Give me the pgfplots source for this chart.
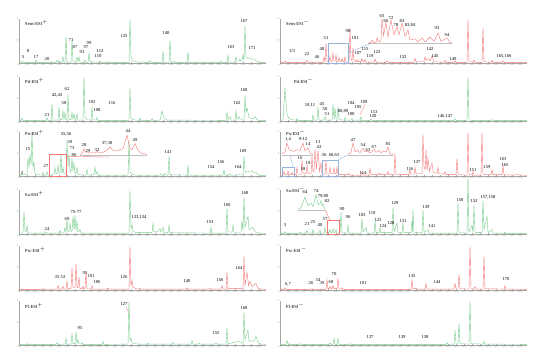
\documentclass[border=0pt]{standalone}
\usepackage{pgfplots}
\pgfplotsset{compat=1.18}
\usepackage{fontspec}
\setmainfont{Liberation Serif}
\definecolor{cg}{RGB}{120,205,140}
\definecolor{cr}{RGB}{245,120,120}
\definecolor{cb}{RGB}{150,180,220}
\tikzset{lbl/.style={font=\fontsize{4.6}{5}\selectfont, inner sep=0pt},
  ttl/.style={font=\fontsize{4.6}{5}\selectfont, inner sep=0pt, anchor=west}}
\pgfplotsset{chrom/.style={scale only axis, width=247pt, height=44pt,
  xmin=0, xmax=61.75, ymin=0, ymax=100, clip=false,
  axis x line*=bottom, axis y line*=left,
  axis line style={gray!70, line width=0.3pt},
  xtick={0,2,...,60}, ytick={50,100},
  major tick length=1.2pt, tick style={gray!70, line width=0.3pt},
  xticklabel style={font=\fontsize{2}{2}\selectfont, gray, inner sep=0.5pt},
  yticklabel style={font=\fontsize{3}{3}\selectfont, cg!80!black, inner sep=0.5pt},
  yticklabels={5,1},
  /pgf/number format/assume math mode=true,
  xticklabel={\pgfmathprintnumber[fixed,fixed zerofill,precision=2]{\tick}},
  anchor=south west}}
\begin{document}
\begin{tikzpicture}
\path[use as bounding box] (0pt,0pt) rectangle (550pt,361pt);
% ---------- Row 1 left: Sens-ESI+
\begin{axis}[chrom, at={(19pt,298pt)}]
\addplot[cg, line width=0.4pt] coordinates {(0,1.5) (0.5,1.5) (0.75,4) (1,1.5) (4,1.5) (4.25,7) (4.5,1.5) (8,1.5) (8.25,3) (8.5,1.5) (9.25,1.5) (9.5,6) (9.75,2) (10,5) (10.25,1.5) (10.75,1.5) (11,14) (11.25,2) (11.5,2) (11.75,61) (12,2) (13,2) (13.25,52) (13.5,3) (14.25,2) (14.5,14) (14.75,3) (15,14) (15.25,2) (16.25,1.5) (16.5,7) (16.75,1.5) (17.25,1.5) (17.5,23) (17.75,3) (20,1.5) (20.25,4) (20.5,1.5) (22,1.5) (22.25,3) (22.5,1.5) (27.5,1.5) (27.75,100) (28,14) (28.5,5) (29.5,2.5) (30.75,1.5) (31,3) (31.25,1.5) (32.5,1.5) (32.75,5) (33,1.5) (35.75,1.5) (36,27) (36.25,2) (37.5,1.5) (37.75,52) (38,3) (38.5,1.5) (38.75,4) (39,1.5) (42,1.5) (42.25,25) (42.5,1.5) (45,1.5) (45.25,3) (45.5,1.5) (48.75,1.5) (49,3) (49.25,1.5) (50.25,1.5) (50.5,4) (50.75,1.5) (52,1.5) (52.25,18) (52.5,2) (54,2) (54.25,14) (54.5,4) (55,4) (55.25,9) (55.5,4) (55.75,4) (56,18) (56.25,6) (56.5,86) (56.75,14) (57.25,10) (57.75,12) (58.25,8) (59,8) (59.5,3) (59.75,3) (60.25,1.5) (61.75,1.5)};
\node[ttl] at (1.5,92) {Sens-ESI$^{+}$};
\node[lbl] at (1,14) {5}; \node[lbl] at (2.25,27) {8}; \node[lbl] at (4.25,14) {17}; \node[lbl] at (7,9) {20};
\node[lbl] at (13,52) {71}; \node[lbl] at (14,36) {87}; \node[lbl] at (15.75,25) {93}; \node[lbl] at (16.75,36) {97};
\node[lbl] at (17.5,45) {99}; \node[lbl] at (19.75,16) {110}; \node[lbl] at (20.25,27) {112}; \node[lbl] at (26.25,61) {125};
\node[lbl] at (36.75,68) {140}; \node[lbl] at (53,36) {163}; \node[lbl] at (56.25,95) {167}; \node[lbl] at (58.25,34) {171};
\end{axis}
% ---------- Row 1 right: Sens-ESI-
\begin{axis}[chrom, at={(280pt,298pt)}]
\addplot[cr, line width=0.4pt] coordinates {(0,1.5) (1,1.5) (1.25,5) (1.5,1.5) (6.5,1.5) (6.75,7) (7,1.5) (9,1.5) (9.25,3) (9.5,1.5) (10.75,1.5) (11,14) (11.25,3) (11.5,45) (11.75,3) (12.25,2) (12.5,15) (12.75,3) (13,3) (13.25,23) (13.5,4) (13.75,4) (14,18) (14.25,3) (14.5,3) (14.75,12) (15,3) (15.25,3) (15.5,10) (15.75,3) (16,3) (16.25,14) (16.5,2) (17.25,2) (17.5,80) (17.75,8) (18,6) (18.25,35) (18.5,5) (19,3) (19.25,8) (19.5,3) (20.25,3) (20.5,10) (20.75,3) (21,3) (21.25,8) (21.5,2) (23.5,2) (23.75,9) (24,2) (26.5,1.5) (26.75,5) (27,1.5) (33.5,1.5) (33.75,11) (34,4) (36,4) (36.25,14) (36.5,6) (37,10) (37.5,5) (38,16) (38.5,3) (41,1.5) (41.25,6) (41.5,1.5) (43.5,1.5) (43.75,5) (44,1.5) (46.75,1.5) (47,100) (47.25,3) (48.25,2) (48.5,7) (48.75,1.5) (50.5,1.5) (50.75,80) (51,3) (52.75,1.5) (53,6) (53.25,1.5) (55.5,1.5) (55.75,5) (56,1.5) (61.75,1.5)};
\addplot[gray!50, line width=0.4pt] coordinates {(22,45.5) (43,45.5)};
\addplot[cr, line width=0.4pt] coordinates {(22,46.5) (22.75,47) (23,52) (23.5,47) (24,47) (24.25,57) (24.75,48) (25.25,50) (25.5,102) (25.9,62) (26.5,93) (27,59) (27.75,98) (28.5,64) (29.25,82) (29.75,64) (30.5,91) (31.25,60) (31.5,64) (32,75) (32.5,52) (33.75,55) (34.5,48) (35.5,57) (36.25,48) (37.5,59) (38.5,49) (39.5,68) (40.25,49) (41.75,57) (42.5,47) (43,46.5)};
\draw[cb, line width=0.4pt] (12,0.5) rectangle (17,45.5);
\draw[cb, line width=0.4pt] (17,23) -- (23,45.5);
\node[ttl] at (1.5,92) {Sens-ESI$^{-}$};
\node[lbl] at (3,27) {1/3}; \node[lbl] at (6.75,20) {22}; \node[lbl] at (9.25,14) {46}; \node[lbl] at (10.5,32) {48};
\node[lbl] at (11.5,57) {51}; \node[lbl] at (17,73) {98}; \node[lbl] at (18.75,57) {101}; \node[lbl] at (19.5,23) {107};
\node[lbl] at (21.25,32) {115}; \node[lbl] at (22.5,16) {119}; \node[lbl] at (24.25,25) {122}; \node[lbl] at (30.75,14) {132};
\node[lbl] at (37.5,32) {142}; \node[lbl] at (38.75,16) {145}; \node[lbl] at (43.25,9) {149}; \node[lbl] at (56,16) {165,166};
\node[lbl] at (25.5,107) {65}; \node[lbl] at (26.5,96) {66}; \node[lbl] at (27.75,102) {72}; \node[lbl] at (29,86) {78};
\node[lbl] at (30.5,96) {83}; \node[lbl] at (32.5,86) {83,84}; \node[lbl] at (39.25,80) {92}; \node[lbl] at (41.75,64) {94};
\end{axis}
% ---------- Row 2 left: Pd-ESI+
\begin{axis}[chrom, at={(19pt,240pt)}]
\addplot[cg, line width=0.4pt] coordinates {(0,1.5) (0.5,1.5) (0.75,6) (1,1.5) (6.75,1.5) (7,8) (7.25,1.5) (8,1.5) (8.25,39) (8.5,2) (9.75,2) (10,32) (10.25,3) (10.75,3) (11,23) (11.25,4) (11.5,20) (11.75,3) (12,3) (12.25,61) (12.5,3) (13,3) (13.25,20) (13.5,4) (13.75,16) (14,3) (14.25,3) (14.5,16) (14.75,2) (16,2) (16.25,100) (16.5,10) (17,3) (18,2) (18.25,32) (18.5,3) (19.25,2) (19.5,8) (19.75,1.5) (27.5,1.5) (27.75,75) (28,8) (28.5,3) (30,1.5) (30.25,7) (30.5,1.5) (33,1.5) (33.25,5) (33.5,1.5) (35.25,2) (35.75,23) (36.25,6) (37,2) (51.75,1.5) (52,20) (52.25,3) (52.75,10) (53,2) (54,2) (54.25,23) (54.5,4) (55,10) (55.25,4) (56.25,4) (56.5,59) (56.75,20) (57,30) (57.5,8) (58.5,5) (59,10) (59.5,3) (60,1.5) (61.75,1.5)};
\node[ttl] at (1.5,92) {Pd-ESI$^{+}$};
\node[lbl] at (7,14) {21}; \node[lbl] at (9.5,59) {42,43}; \node[lbl] at (11.25,41) {58}; \node[lbl] at (12,73) {62};
\node[lbl] at (18.25,43) {102}; \node[lbl] at (19.5,25) {108}; \node[lbl] at (23.25,41) {116}; \node[lbl] at (54.5,41) {162};
\node[lbl] at (56.25,70) {168};
\end{axis}
% ---------- Row 2 right: Pd-ESI-
\begin{axis}[chrom, at={(280pt,240pt)}]
\addplot[cg, line width=0.4pt] coordinates {(0,1.5) (0.75,2) (1.25,77) (1.5,40) (1.75,15) (2.25,6) (3,3) (4,2) (4.25,5) (4.5,1.5) (8,1.5) (8.25,14) (8.5,2) (9.25,2) (9.5,32) (9.75,2) (11,2) (11.25,10) (11.5,2) (13,2) (13.25,39) (13.5,5) (13.75,30) (14,4) (14.25,4) (14.5,32) (14.75,3) (16,2) (16.25,8) (16.5,2) (17.75,2) (18,6) (18.25,2) (20,2) (20.25,10) (20.5,1.5) (22.5,1.5) (22.75,4) (23,1.5) (43.5,1.5) (43.75,5) (44,1.5) (46.75,1.5) (47,100) (47.25,3) (47.75,1.5) (52.75,1.5) (53,3) (53.25,1.5) (61.75,1.5)};
\draw[cr, line width=0.3pt] (21.25,38) -- (20,14);
\node[ttl] at (3.5,92) {Pd-ESI$^{-}$};
\node[lbl] at (7.5,36) {10,11}; \node[lbl] at (10.5,39) {45}; \node[lbl] at (11.25,27) {50}; \node[lbl] at (11.75,16) {51};
\node[lbl] at (15.75,23) {80,89}; \node[lbl] at (17.75,16) {100}; \node[lbl] at (17.75,41) {104}; \node[lbl] at (19.5,32) {105};
\node[lbl] at (21,43) {109}; \node[lbl] at (23.5,20) {113}; \node[lbl] at (23.25,11) {120}; \node[lbl] at (41.25,11) {146,147};
\end{axis}
% ---------- Row 3 left: Pn-ESI+
\begin{axis}[chrom, at={(19pt,185pt)}]
\addplot[cg, line width=0.4pt] coordinates {(0,1.5) (0.5,1.5) (0.75,5) (1,3) (2,4) (2.25,41) (2.5,20) (2.75,50) (3,25) (3.25,100) (3.5,20) (3.75,30) (4,5) (4.5,3) (5.75,2) (6,8) (6.25,2) (6.75,2) (7,10) (7.25,2) (8.75,3) (9,20) (9.25,5) (9.5,5) (9.75,25) (10,6) (10.25,6) (10.5,52) (10.75,6) (11,20) (11.25,5) (11.75,5) (12,82) (12.25,20) (12.5,50) (12.75,10) (13,10) (13.25,40) (13.5,10) (13.75,30) (14,6) (14.25,6) (14.5,20) (14.75,3) (16.75,2) (17,15) (17.25,2) (18.75,3) (19,20) (19.25,5) (19.5,10) (19.75,2) (27.25,2) (27.5,80) (27.75,10) (28.25,4) (29,2) (35.25,2) (35.5,5) (35.75,2) (36.25,2) (36.5,6) (36.75,2) (37.25,2) (37.5,45) (37.75,3) (42,2) (42.25,23) (42.5,2) (51,2) (51.25,14) (51.5,2) (52.5,2) (52.75,5) (53,2) (56,3) (56.25,45) (56.5,8) (57.25,10) (57.75,9) (58.25,12) (58.75,8) (59.25,8) (59.75,3) (60.5,1.5) (61.75,1.5)};
\addplot[gray!50, line width=0.4pt] coordinates {(15.25,48) (32,48)};
\addplot[cr, line width=0.4pt] coordinates {(15.25,49) (15.75,51) (16.25,62) (16.6,54) (17,55) (17.5,52) (18.25,53) (19,52) (19.5,56) (20,52) (21,54) (22,58) (22.75,66) (23.5,58) (24.5,57) (25.25,60) (26,62) (27,93) (27.75,62) (28.25,60) (29,74) (29.75,58) (30.5,52) (31.25,51) (32,49)};
\draw[cr, line width=0.4pt] (7.5,0.5) rectangle (11.75,50);
\draw[cr, line width=0.4pt] (11.75,45) -- (22.5,43);
\node[ttl] at (1.5,97) {Pn-ESI$^{+}$};
\node[lbl] at (0.75,7) {2}; \node[lbl] at (2.25,61) {15}; \node[lbl] at (6.75,23) {27}; \node[lbl] at (11.75,95) {55,56};
\node[lbl] at (12.75,77) {59}; \node[lbl] at (13.25,64) {73}; \node[lbl] at (13.75,48) {86}; \node[lbl] at (37.25,55) {141};
\node[lbl] at (48,20) {154}; \node[lbl] at (50.5,32) {156}; \node[lbl] at (54.75,20) {164}; \node[lbl] at (56,57) {169};
\node[lbl] at (16.25,70) {28}; \node[lbl] at (17.25,57) {29}; \node[lbl] at (19.5,60) {32}; \node[lbl] at (22,75) {37,38};
\node[lbl] at (27.25,102) {44}; \node[lbl] at (29,82) {49};
\end{axis}
% ---------- Row 3 right: Pn-ESI-
\begin{axis}[chrom, at={(280pt,185pt)}]
\addplot[cr, line width=0.4pt] coordinates {(0,1.5) (0.75,2) (1,10) (1.25,3) (1.75,3) (2,12) (2.25,3) (2.75,3) (3,8) (3.25,3) (4,3) (4.25,20) (4.5,4) (5.25,4) (5.5,35) (5.75,6) (6.5,5) (6.75,25) (7,5) (7.75,5) (8,45) (8.25,10) (8.5,10) (8.75,61) (9.1,15) (9.5,58) (9.9,10) (10.25,30) (10.5,4) (11.25,4) (11.5,36) (11.75,4) (12.25,4) (12.5,20) (12.75,5) (13.25,5) (13.5,18) (13.75,5) (14,5) (14.25,20) (14.5,3) (17,3) (17.25,6) (17.5,2) (20.25,2) (20.5,10) (20.75,2) (22.25,2) (22.5,18) (22.75,3) (24.5,3) (24.75,7) (25,3) (26.75,3) (27,10) (27.25,3) (28.5,3) (28.75,52) (29,4) (30,3) (32.25,3) (32.5,15) (32.75,4) (33.5,4) (33.75,20) (34,5) (35.5,5) (35.75,95) (36,20) (36.25,15) (36.5,60) (36.75,12) (37,40) (37.4,10) (38,30) (38.3,8) (39.25,6) (39.5,20) (39.75,5) (41,4) (41.25,10) (41.5,3) (44,3) (44.25,40) (44.5,3) (46.75,2) (47,100) (47.25,4) (48,3) (48.25,10) (48.5,2) (50.25,2) (50.5,100) (50.75,4) (52.75,3) (53,15) (53.25,3) (55.5,3) (55.75,23) (56,3) (58,2) (59,3) (61.75,1.5)};
\addplot[gray!50, line width=0.4pt] coordinates {(0.5,48) (8.25,48)};
\addplot[cr, line width=0.4pt] coordinates {(0.5,50) (1.25,55) (1.75,75) (2.25,60) (2.75,58) (3.5,56) (4.25,60) (5,58) (5.75,75) (6.25,57) (7,64) (7.5,52) (8.25,49)};
\addplot[gray!50, line width=0.4pt] coordinates {(17,48) (28.25,48)};
\addplot[cr, line width=0.4pt] coordinates {(17,49) (17.75,54) (18.25,75) (18.75,55) (19.5,58) (20,53) (20.75,63) (21.25,55) (22,56) (22.5,53) (23,55) (23.5,61) (24,54) (24.75,58) (25.25,53) (26,57) (26.5,54) (27,66) (27.5,50) (28.25,49)};
\draw[cb, line width=0.4pt] (0.5,0.5) rectangle (3.5,20);
\draw[cb, line width=0.4pt] (3.25,20) -- (2.5,48);
\draw[cb, line width=0.4pt] (10.5,0.5) rectangle (14.5,36);
\draw[cb, line width=0.4pt] (14.5,36) -- (17,48);
\node[ttl] at (1.5,97) {Pn-ESI$^{-}$};
\node[lbl] at (2,84) {1,4}; \node[lbl] at (5.75,84) {9-12}; \node[lbl] at (7,72) {14}; \node[lbl] at (9.5,77) {13};
\node[lbl] at (9.75,66) {43}; \node[lbl] at (5,41) {16}; \node[lbl] at (5.75,16) {18}; \node[lbl] at (7,30) {19};
\node[lbl] at (11,48) {36}; \node[lbl] at (13.5,48) {60,63}; \node[lbl] at (20.75,7) {114}; \node[lbl] at (32.5,16) {116};
\node[lbl] at (34.25,32) {137}; \node[lbl] at (48.25,14) {151}; \node[lbl] at (51.75,20) {159}; \node[lbl] at (55.75,39) {163};
\node[lbl] at (56.25,25) {165};
\node[lbl] at (18.25,82) {47}; \node[lbl] at (20.75,70) {54}; \node[lbl] at (22,59) {63}; \node[lbl] at (23.5,66) {67};
\node[lbl] at (27,73) {85};
\end{axis}
% ---------- Row 4 left: Sa-ESI+
\begin{axis}[chrom, at={(19pt,127pt)}]
\addplot[cg, line width=0.4pt] coordinates {(0,1.5) (1,2) (1.25,50) (1.5,8) (1.75,5) (2,20) (2.25,3) (3,2) (6.5,2) (6.75,5) (7,2) (10,2) (10.25,8) (10.5,2) (11.25,3) (11.5,15) (11.75,4) (12,32) (12.25,5) (12.5,5) (12.75,25) (13,6) (13.25,6) (13.5,40) (13.75,10) (14,43) (14.25,8) (14.5,30) (14.75,4) (15.25,10) (15.5,2) (27.5,2) (27.75,100) (28,12) (28.25,20) (28.5,6) (29.25,3) (33.25,3) (33.5,25) (33.75,6) (34.5,4) (35.25,12) (35.5,4) (36,15) (36.25,4) (37.25,3) (37.5,20) (37.75,3) (47.75,2) (48,15) (48.25,2) (51.75,2) (52,59) (52.25,5) (53.25,4) (53.5,20) (53.75,4) (55.5,4) (55.75,30) (56,8) (56.25,84) (56.5,15) (57.25,40) (57.5,10) (58.5,15) (59,5) (60,2) (61.75,1.5)};
\node[ttl] at (1.5,92) {Sa-ESI$^{+}$};
\node[lbl] at (7,11) {24}; \node[lbl] at (12,34) {69}; \node[lbl] at (14.25,50) {75-77}; \node[lbl] at (30,38) {133,134};
\node[lbl] at (47.75,27) {153}; \node[lbl] at (52,65) {160}; \node[lbl] at (56.5,93) {168};
\end{axis}
% ---------- Row 4 right: Sa-ESI-
\begin{axis}[chrom, at={(280pt,127pt)}]
\addplot[cg, line width=0.4pt] coordinates {(0,1.5) (1,1.5) (1.25,5) (1.5,1.5) (4.75,1.5) (5,5) (5.25,1.5) (6.5,2) (6.75,8) (7,2) (8,2) (8.25,10) (8.5,2) (9.75,2) (10,8) (10.25,2) (11,2) (11.25,15) (11.5,3) (12.25,3) (12.5,10) (12.75,3) (13,3) (13.25,12) (13.5,3) (13.75,3) (14,10) (14.25,2) (15,2) (15.25,50) (15.5,3) (16.75,2) (17,20) (17.25,2) (20.25,2) (20.5,35) (20.75,5) (21.5,15) (21.75,2) (23.5,2) (23.75,30) (24,3) (24.75,3) (25,15) (25.25,3) (28,3) (28.25,61) (28.5,5) (29.25,25) (29.5,4) (30.5,3) (30.75,25) (31,3) (32.75,3) (33,30) (33.1,5) (33.25,57) (33.5,4) (35.5,3) (35.75,55) (36,4) (37,10) (37.25,2) (44.25,2) (44.5,70) (44.75,3) (46.75,2) (47,130) (47.25,4) (48,20) (48.25,4) (48.5,66) (48.75,3) (50.5,3) (50.75,77) (51,10) (51.75,40) (52,3) (53,10) (53.25,2) (56,2) (56.25,5) (56.5,1.5) (61.75,1.5)};
\addplot[gray!50, line width=0.4pt] coordinates {(4.5,55) (11.25,55)};
\addplot[cg, line width=0.4pt] coordinates {(4.5,56) (5.25,60) (6.25,84) (7,64) (7.75,70) (8.25,62) (9,89) (9.5,66) (10,70) (10.25,76) (10.5,64) (10.75,68) (11.25,56)};
\draw[cr, line width=0.4pt] (11.75,0.5) rectangle (14.75,32);
\draw[cr, line width=0.4pt] (11.25,55) -- (12.5,32);
\node[ttl] at (1.5,100) {Sa-ESI$^{-}$};
\node[lbl] at (1.25,20) {3}; \node[lbl] at (6.75,23) {21}; \node[lbl] at (8.25,27) {25}; \node[lbl] at (10,20) {40};
\node[lbl] at (11.25,34) {57}; \node[lbl] at (15.5,57) {90}; \node[lbl] at (17,39) {96}; \node[lbl] at (20.5,43) {103};
\node[lbl] at (23,47) {110}; \node[lbl] at (24.5,32) {123}; \node[lbl] at (25.75,18) {124};
\node[lbl] at (27.75,25) {128}; \node[lbl] at (28.75,70) {129}; \node[lbl] at (30.75,30) {131}; \node[lbl] at (36.5,61) {139};
\node[lbl] at (38,18) {141}; \node[lbl] at (45,77) {150}; \node[lbl] at (48.5,75) {152}; \node[lbl] at (52,84) {157,158};
\node[lbl] at (6.25,95) {64}; \node[lbl] at (9,98) {74}; \node[lbl] at (10.75,86) {79,80}; \node[lbl] at (11.75,75) {82};
\end{axis}
% ---------- Row 5 left: Prc-ESI+
\begin{axis}[chrom, at={(19pt,71pt)}]
\addplot[cr, line width=0.4pt] coordinates {(0,1.5) (5.75,1.5) (6,3) (6.25,1.5) (9.5,2) (9.75,10) (10,2) (10.75,2) (11,8) (11.25,2) (11.75,2) (12,20) (12.25,3) (13,3) (13.25,50) (13.5,5) (14,5) (14.25,61) (14.5,6) (14.75,5) (15,30) (15.25,3) (15.75,3) (16,8) (16.25,3) (16.5,3) (16.75,41) (17,3) (18,2) (18.25,10) (18.5,2) (22,2) (22.25,4) (22.5,2) (27.5,2) (27.75,100) (28,10) (28.25,20) (28.5,6) (29.25,3) (30,2) (30.25,4) (30.5,2) (41.75,2) (42,5) (42.25,2) (47.5,2) (47.75,4) (48,2) (50.5,2) (50.75,10) (51,2) (51.75,2) (52,41) (52.25,3) (56,3) (56.25,77) (56.5,10) (57,40) (57.4,10) (57.75,20) (58.25,8) (59.25,15) (59.75,4) (60.5,2) (61.75,1.5)};
\node[ttl] at (1.5,92) {Prc-ESI$^{+}$};
\node[lbl] at (9.5,30) {35}; \node[lbl] at (11,30) {52}; \node[lbl] at (16.5,39) {95}; \node[lbl] at (18,32) {101};
\node[lbl] at (19.5,18) {106}; \node[lbl] at (26.25,30) {126}; \node[lbl] at (42,20) {140}; \node[lbl] at (50.25,23) {156};
\node[lbl] at (55,50) {164};
\end{axis}
% ---------- Row 5 right: Prc-ESI-
\begin{axis}[chrom, at={(280pt,71pt)}]
\addplot[cr, line width=0.4pt] coordinates {(0,1.5) (1,1.5) (1.25,5) (1.5,1.5) (7.75,1.5) (8,3) (8.25,1.5) (11.5,1.5) (11.75,23) (12,3) (12.25,3) (12.5,8) (12.75,3) (13,3) (13.25,10) (13.5,3) (14.25,3) (14.5,27) (14.75,3) (15.25,2) (15.5,5) (15.75,1.5) (32.75,1.5) (33,23) (33.25,3) (33.75,3) (34,5) (34.25,2) (36.25,2) (36.5,15) (36.75,2) (43.5,2) (43.75,15) (44,4) (44.5,4) (44.75,36) (45,3) (47.25,2) (47.5,100) (47.75,3) (48.5,2) (48.75,8) (49,2) (50.75,2) (51,77) (51.25,3) (56,2) (56.25,10) (56.5,2) (61.75,1.5)};
\node[ttl] at (1.5,92) {Prc-ESI$^{-}$};
\node[lbl] at (2,14) {6,7}; \node[lbl] at (7.75,16) {26}; \node[lbl] at (9.5,23) {34}; \node[lbl] at (10.5,16) {39};
\node[lbl] at (12.75,18) {68}; \node[lbl] at (13.5,36) {70}; \node[lbl] at (20.75,16) {101}; \node[lbl] at (33,32) {135};
\node[lbl] at (39.25,18) {144}; \node[lbl] at (56.5,25) {170};
\end{axis}
% ---------- Row 6 left: Pl-ESI+
\begin{axis}[chrom, at={(19pt,16pt)}]
\addplot[cg, line width=0.4pt] coordinates {(0,1.5) (1.75,1.5) (2,3) (2.25,1.5) (9.25,1.5) (9.5,5) (9.75,1.5) (11.5,2) (11.75,15) (12,2) (13,2) (13.25,27) (13.5,3) (14,3) (14.25,30) (14.5,4) (14.75,12) (15,3) (15.5,2) (15.75,5) (16,1.5) (20.75,1.5) (21,8) (21.25,1.5) (27.25,2) (27.5,100) (27.75,10) (28,15) (28.25,5) (29,3) (30,2) (32,2) (32.25,4) (32.5,2) (38.25,2) (38.5,6) (38.75,2) (43,2) (43.25,10) (43.5,2) (44.75,2) (45,4) (45.25,2) (49,2) (49.25,4) (49.5,2) (51.75,2) (52,39) (52.25,3) (53,4) (53.5,6) (54.25,7) (54.75,8) (55.5,6) (56,3) (56.25,75) (56.5,12) (57.25,34) (57.5,8) (58.25,10) (58.75,8) (59.25,20) (59.75,5) (60.5,2) (61.75,1.5)};
\draw[cr, line width=0.3pt] (26.75,86) -- (27.5,73);
\node[ttl] at (1.5,90) {Pl-ESI$^{+}$};
\node[lbl] at (15.25,39) {95}; \node[lbl] at (26.25,93) {127}; \node[lbl] at (49.25,27) {155}; \node[lbl] at (56.25,84) {168};
\end{axis}
% ---------- Row 6 right: Pl-ESI-
\begin{axis}[chrom, at={(280pt,16pt)}]
\addplot[cg, line width=0.4pt] coordinates {(0,1.5) (1.5,1.5) (1.75,10) (2,3) (2.5,1.5) (4.75,1.5) (5,3) (5.25,1.5) (12.25,1.5) (12.5,5) (12.75,1.5) (13.25,1.5) (13.5,15) (13.75,1.5) (14.25,1.5) (14.5,15) (14.75,1.5) (17.25,1.5) (17.5,3) (17.75,1.5) (41.5,1.5) (41.75,5) (42,1.5) (43.5,2) (43.75,34) (44,4) (44.5,4) (44.75,50) (45,3) (47.25,2) (47.5,100) (47.75,3) (50.75,2) (51,8) (51.25,2) (61.75,1.5)};
\node[ttl] at (1.5,90) {Pl-ESI$^{-}$};
\node[lbl] at (22.5,18) {137}; \node[lbl] at (30.5,18) {139}; \node[lbl] at (36.25,18) {138};
\end{axis}
\end{tikzpicture}
\end{document}
